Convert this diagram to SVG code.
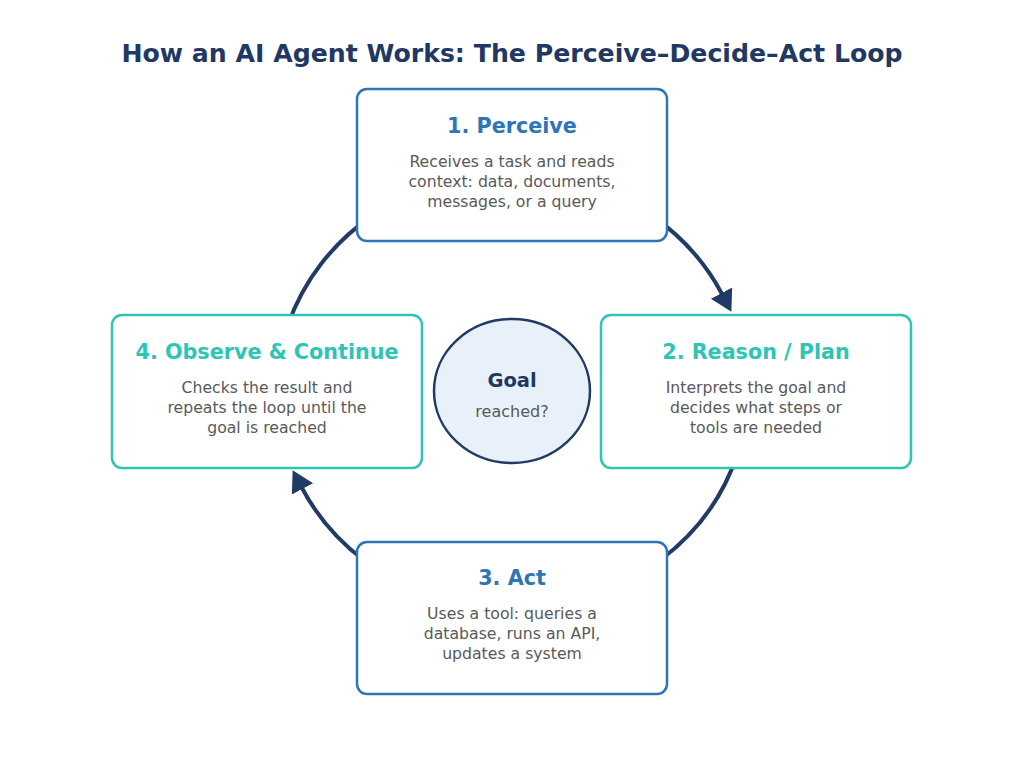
<svg xmlns="http://www.w3.org/2000/svg" width="1024" height="765" viewBox="0 0 1024 765">
<style>
text{font-family:"DejaVu Sans","Liberation Sans",sans-serif;text-anchor:middle}
.ttl{font-size:25.2px;font-weight:bold;fill:#1f3864}
.box{fill:#fff;stroke-width:2.5}
.blue{stroke:#2e75b6}
.teal{stroke:#2ec4b6}
.hb{font-size:20.7px;font-weight:bold;fill:#2e75b6}
.ht{font-size:20.7px;font-weight:bold;fill:#2ec4b6}
.body{font-size:15.7px;fill:#595959}
.arc{fill:none;stroke:#213a66;stroke-width:4}
</style>
<defs>
<marker id="ah" markerUnits="userSpaceOnUse" markerWidth="22" markerHeight="26" viewBox="0 0 22 26" refX="1" refY="13" orient="auto">
<path d="M0,1 L21,13 L0,25 z" fill="#213a66"/>
</marker>
</defs>
<rect width="1024" height="765" fill="#fff"/>
<text class="ttl" x="512" y="62">How an AI Agent Works: The Perceive–Decide–Act Loop</text>
<g id="connectors">
<path class="arc" d="M651,215 A235 218 0 0 1 722,294" marker-end="url(#ah)"/>
<path class="arc" d="M737,455 A235 218 0 0 1 660.5,560"/>
<path class="arc" d="M363.5,560 A235 218 0 0 1 302,488" marker-end="url(#ah)"/>
<path class="arc" d="M288,325 A235 218 0 0 1 373.3,215"/>
</g>
<g id="perceive">
<rect class="box blue" x="357" y="89" width="310" height="152" rx="10"/>
<text class="hb" x="512" y="133">1. Perceive</text>
<text class="body" x="512" y="167">Receives a task and reads</text>
<text class="body" x="512" y="187">context: data, documents,</text>
<text class="body" x="512" y="207">messages, or a query</text>
</g>
<g id="reason">
<rect class="box teal" x="601" y="315" width="310" height="153" rx="10"/>
<text class="ht" x="756" y="359">2. Reason / Plan</text>
<text class="body" x="756" y="393">Interprets the goal and</text>
<text class="body" x="756" y="413">decides what steps or</text>
<text class="body" x="756" y="433">tools are needed</text>
</g>
<g id="act">
<rect class="box blue" x="357" y="542" width="310" height="152" rx="10"/>
<text class="hb" x="512" y="585">3. Act</text>
<text class="body" x="512" y="619">Uses a tool: queries a</text>
<text class="body" x="512" y="639">database, runs an API,</text>
<text class="body" x="512" y="659">updates a system</text>
</g>
<g id="observe">
<rect class="box teal" x="112" y="315" width="310" height="153" rx="10"/>
<text class="ht" x="267" y="359">4. Observe &amp; Continue</text>
<text class="body" x="267" y="393">Checks the result and</text>
<text class="body" x="267" y="413">repeats the loop until the</text>
<text class="body" x="267" y="433">goal is reached</text>
</g>
<g id="goal">
<ellipse cx="512" cy="391" rx="78" ry="72" fill="#e8f1fa" stroke="#213a66" stroke-width="2.5"/>
<text x="512" y="387" font-size="19.5" font-weight="bold" fill="#1f3864">Goal</text>
<text x="512" y="417" font-size="16" fill="#595959">reached?</text>
</g>
</svg>
